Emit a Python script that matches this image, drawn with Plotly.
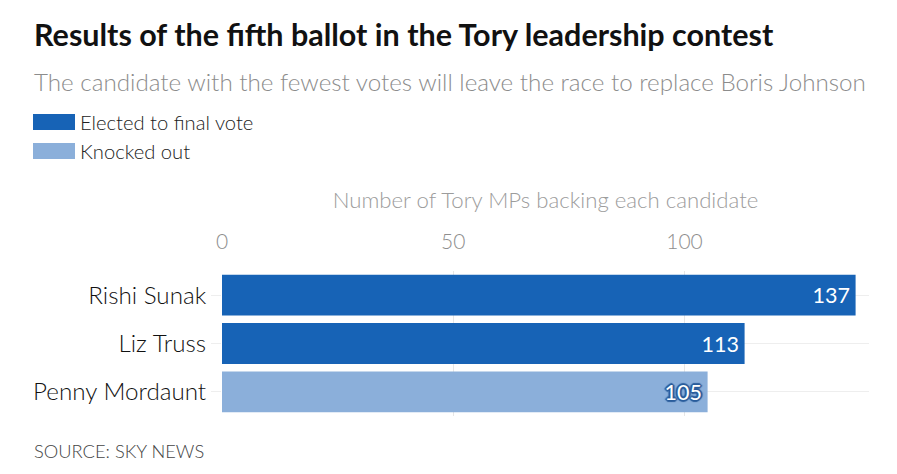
import plotly.graph_objects as go

candidates = ["Rishi Sunak", "Liz Truss", "Penny Mordaunt"]
votes = [137, 113, 105]
status = ["Elected to final vote", "Elected to final vote", "Knocked out"]
tick_vals = [0, 50, 100]

DARK = "#1763B6"
LIGHT = "#8BAFDA"
FONT = "Lato"

W, H = 897, 474
L, R, T, B = 222, 28, 271, 58
PW, PH = W - L - R, H - T - B

def fx(px):
    return (px - L) / PW

def fy(py):
    return (H - B - py) / PH

OC = "#2A5D9C"
OUTLINE = (f"2px 0px 1px {OC}, -2px 0px 1px {OC}, 0px 2px 1px {OC}, 0px -2px 1px {OC}, "
           f"1px 1px 1px {OC}, -1px -1px 1px {OC}, 1px -1px 1px {OC}, -1px 1px 1px {OC}")

fig = go.Figure()
for name, color, shadow in [("Elected to final vote", DARK, "none"),
                            ("Knocked out", LIGHT, OUTLINE)]:
    xs = [v for v, s in zip(votes, status) if s == name]
    ys = [c for c, s in zip(candidates, status) if s == name]
    fig.add_trace(go.Bar(
        x=xs, y=ys, orientation="h", name=name,
        marker=dict(color=color, line=dict(width=0)),
        text=[f"{v}\u2009" for v in xs], textposition="inside",
        insidetextanchor="end",
        textfont=dict(color="white", size=21.5, family=FONT, shadow=shadow),
        showlegend=False, hoverinfo="skip",
    ))

fig.update_layout(
    width=W, height=H,
    margin=dict(l=L, r=R, t=T, b=B),
    paper_bgcolor="white", plot_bgcolor="white",
    barmode="overlay", bargap=0.155,
    font=dict(family=FONT),
    xaxis=dict(
        side="top", range=[0, 139.9], tickvals=tick_vals,
        tickfont=dict(size=21, color="#8e8e8e", family=FONT, weight=300),
        showgrid=True, gridcolor="#e6e6e6", gridwidth=1,
        zeroline=False, showline=False, ticks="", ticklabelstandoff=17,
        title=dict(text="Number of Tory MPs backing each candidate",
                   font=dict(size=22.2, color="#9c9c9c", family=FONT, weight=300), standoff=13),
        fixedrange=True,
    ),
    yaxis=dict(
        categoryorder="array", categoryarray=candidates,
        autorange="reversed",
        tickfont=dict(size=24.2, color="#111111", family=FONT, weight=300),
        showgrid=True, gridcolor="#eeeeee", gridwidth=1,
        ticks="outside", ticklen=10, tickcolor="#eeeeee",
        zeroline=False, showline=False,
        fixedrange=True,
    ),
)

annotations = [
    dict(text="<b>Results of the fifth ballot in the Tory leadership contest</b>",
         x=fx(32), y=fy(34), xanchor="left", yanchor="middle",
         font=dict(size=30.5, color="#111111", family=FONT)),
    dict(text="The candidate with the fewest votes will leave the race to replace Boris Johnson",
         x=fx(32), y=fy(81), xanchor="left", yanchor="middle",
         font=dict(size=24.2, color="#8c8c8c", family=FONT, weight=300)),
    dict(text="Elected to final vote", x=fx(78), y=fy(122), xanchor="left", yanchor="middle",
         font=dict(size=20.2, color="#222222", family=FONT, weight=300)),
    dict(text="Knocked out", x=fx(78), y=fy(151), xanchor="left", yanchor="middle",
         font=dict(size=20.2, color="#222222", family=FONT, weight=300)),
    dict(text="SOURCE: SKY NEWS", x=fx(32), y=fy(451), xanchor="left", yanchor="middle",
         font=dict(size=18.3, color="#444444", family=FONT, weight=300)),
]
for a in annotations:
    a.update(xref="paper", yref="paper", showarrow=False)
fig.update_layout(annotations=annotations)

shapes = [
    dict(type="rect", x0=fx(33), x1=fx(75), y0=fy(114), y1=fy(130), fillcolor=DARK, line=dict(width=0)),
    dict(type="rect", x0=fx(33), x1=fx(75), y0=fy(143), y1=fy(159), fillcolor=LIGHT, line=dict(width=0)),
]
for s in shapes:
    s.update(xref="paper", yref="paper")
fig.update_layout(shapes=shapes)

fig.write_html(
    "out.html",
    config={"displayModeBar": False, "staticPlot": True},
    post_script="document.body.style.margin='0';document.body.style.padding='0';",
)
